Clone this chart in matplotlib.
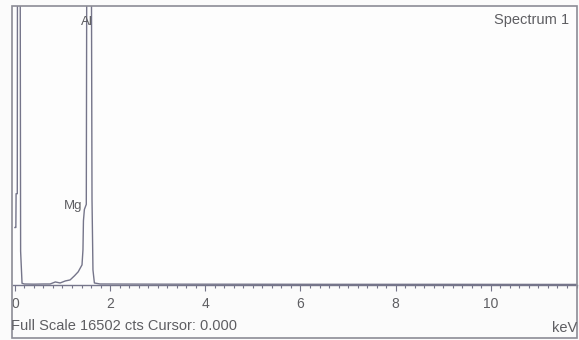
import matplotlib.pyplot as plt
from matplotlib.patches import Rectangle
from matplotlib.ticker import MultipleLocator

# EDS spectrum (energy in keV, counts)
energy = [0.00, 0.02, 0.025, 0.05, 0.06, 0.10, 0.12, 0.15, 0.20, 0.40, 0.60,
          0.74, 0.85, 0.95, 1.06, 1.16, 1.25, 1.33, 1.41, 1.43, 1.44, 1.46,
          1.50, 1.53, 1.58, 1.62, 1.64, 1.67, 1.79, 3.0, 5.0, 7.0, 9.0, 11.0, 11.8]
counts = [3400, 3400, 5400, 5400, 40000, 40000, 2000, 100, 60, 50, 60,
          60, 180, 120, 240, 300, 540, 780, 1190, 2080, 3800, 4470,
          4770, 48000, 48000, 5060, 890, 120, 60, 50, 45, 40, 40, 35, 35]

full_scale = 16502
xticks = [0, 2, 4, 6, 8, 10]

line_col = "#75758a"
frame_col = "#8c8c96"
text_col = "#5e5e62"
fnt = "Liberation Sans"

fig = plt.figure(figsize=(5.79, 3.40), dpi=100)
fig.patch.set_facecolor("#fbfbfb")

W, H = 579.0, 340.0
ax = fig.add_axes([13 / W, 1 - 285 / H, (577 - 13) / W, (285 - 6) / H])
ax.set_facecolor("#fdfdfd")
ax.plot(energy, counts, color=line_col, lw=1.0)

ax.set_xlim(-0.04, 11.81)
ax.set_ylim(0, full_scale)
ax.set_yticks([])
ax.set_xticks(xticks)
ax.xaxis.set_minor_locator(MultipleLocator(0.2))
ax.tick_params(axis="x", which="major", length=4, width=0.8, color=line_col,
               labelsize=10, labelcolor=text_col, pad=5)
ax.tick_params(axis="x", which="minor", length=2.5, width=0.8, color=line_col)
for s in ["left", "top", "right"]:
    ax.spines[s].set_visible(False)
ax.spines["bottom"].set_color(line_col)
ax.spines["bottom"].set_linewidth(1.0)

for lab in ax.get_xticklabels():
    lab.set_fontfamily(fnt)

ax.text(1.42, 4300, "Mg", ha="right", va="bottom", fontsize=9.5,
        color=text_col, family=fnt, zorder=5)
ax.text(1.52, 15900, "Al", ha="center", va="top", fontsize=9.5,
        color=text_col, family=fnt, zorder=5)

# outer frame
fig.patches.append(Rectangle((12 / W, 1 - 338 / H), (577 - 12) / W, (338 - 6) / H,
                             transform=fig.transFigure, fill=False,
                             edgecolor=frame_col, lw=1.2))

fig.text(569 / W, 1 - 20 / H, "Spectrum 1", ha="right", va="center",
         fontsize=10.5, color=text_col, family=fnt)
fig.text(11 / W, 1 - 326 / H, "Full Scale 16502 cts Cursor: 0.000", ha="left",
         va="center", fontsize=10.5, color=text_col, family=fnt)
fig.text(577 / W, 1 - 328 / H, "keV", ha="right", va="center",
         fontsize=10.5, color=text_col, family=fnt)

fig.savefig("out.png", dpi=100, facecolor=fig.get_facecolor())
